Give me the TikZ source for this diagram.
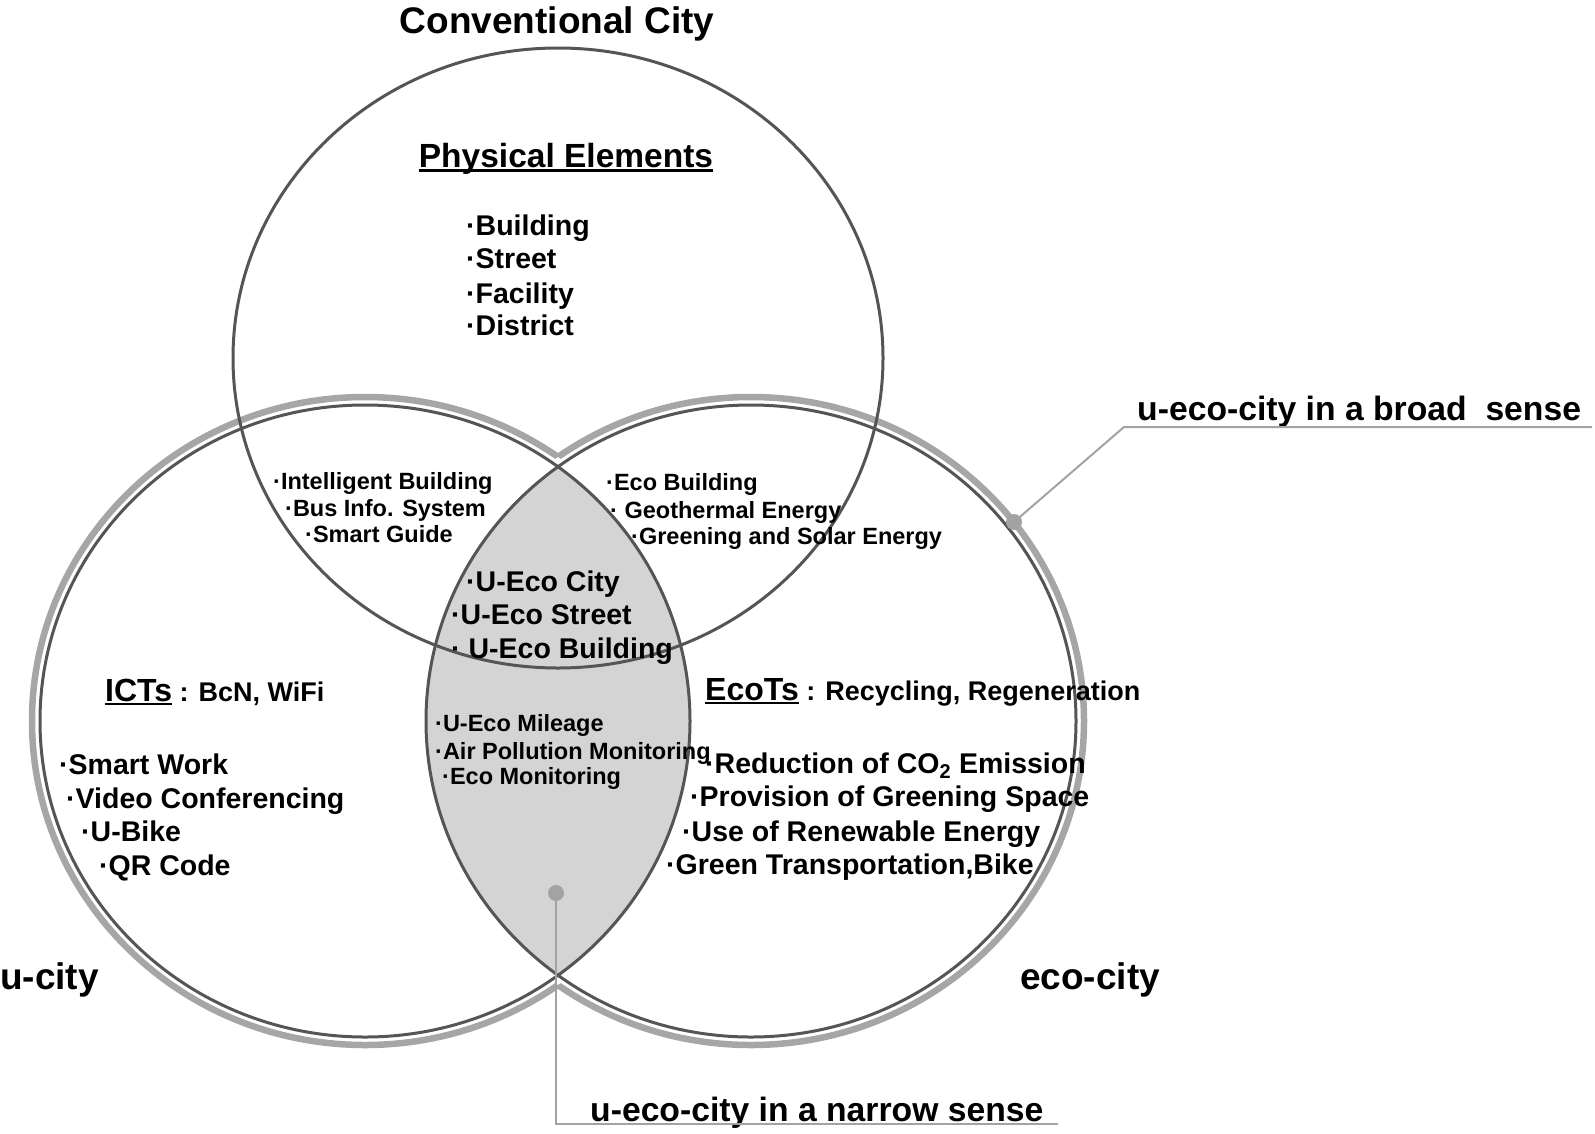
\documentclass[tikz,border=0pt]{standalone}
\usepackage{fontspec}
\setmainfont{Liberation Sans}
\usetikzlibrary{positioning}

\definecolor{ringdark}{HTML}{555555}
\definecolor{ringlight}{HTML}{A6A6A6}
\definecolor{lensgray}{HTML}{D4D4D4}
\definecolor{leadergray}{HTML}{A3A3A3}

% thick underline for the headings
\newcommand{\thickul}[1]{\setbox0\hbox{#1}\rlap{\rule[-0.14em]{\wd0}{0.08em}}\box0}

\begin{document}
\begin{tikzpicture}[
    x=1pt, y=-1pt,
    every node/.style={inner sep=0pt},
    ring/.style={draw=ringdark, line width=3pt},
    band/.style={draw=ringlight, line width=6.5pt},
    titletext/.style={anchor=base, font=\fontsize{37}{40}\selectfont\bfseries},
    headtext/.style={anchor=base, font=\fontsize{33.5}{38}\selectfont\bfseries},
    citytext/.style={anchor=base west, font=\fontsize{37}{40}\selectfont\bfseries},
    techtext/.style={anchor=base west, font=\fontsize{27}{30}\selectfont\bfseries},
    bigitem/.style={anchor=base west, font=\fontsize{28.5}{32}\selectfont\bfseries},
    smallitem/.style={anchor=base west, font=\fontsize{23.5}{27}\selectfont\bfseries},
    sensetext/.style={anchor=base west, font=\fontsize{33.7}{38}\selectfont\bfseries},
    leaderdot/.style={circle, fill=leadergray, minimum size=16pt},
    leader/.style={draw=leadergray, line width=2pt}
]
\useasboundingbox (0,0) rectangle (1595,1133);

% Circle centres
\coordinate (conv) at (558,358);
\coordinate (ucity) at (365,721);
\coordinate (ecocity) at (751,721);

% Outer band (broad sense)
\begin{scope}[even odd rule]
    \clip (-20,-20) rectangle (1615,1153)
        (ecocity) ellipse [x radius=333, y radius=324];
    \draw[band] (ucity) ellipse [x radius=333, y radius=324];
\end{scope}
\begin{scope}[even odd rule]
    \clip (-20,-20) rectangle (1615,1153)
        (ucity) ellipse [x radius=333, y radius=324];
    \draw[band] (ecocity) ellipse [x radius=333, y radius=324];
\end{scope}

% Lens (narrow sense)
\begin{scope}
    \clip (ucity) ellipse [x radius=325, y radius=316];
    \fill[lensgray] (ecocity) ellipse [x radius=325, y radius=316];
\end{scope}

% Circles
\draw[ring] (ucity) ellipse [x radius=325, y radius=316];
\draw[ring] (ecocity) ellipse [x radius=325, y radius=316];
\draw[ring] (conv) ellipse [x radius=325, y radius=310];

% Title
\node[titletext] (convtitle) at (557,33) {Conventional City};

% Physical elements
\node[headtext] (physical) at (566,167) {\thickul{Physical Elements}};
\node[bigitem] (building) at (466,235) {·Building};
\node[bigitem] (street) at (466,268) {·Street};
\node[bigitem] (facility) at (466,303) {·Facility};
\node[bigitem] (district) at (466,335) {·District};

% Conventional + u-city
\node[smallitem] (intelligent) at (273,489) {·Intelligent Building};
\node[smallitem] (businfo) at (285,516) {·Bus Info. System};
\node[smallitem] (smartguide) at (305,542) {·Smart Guide};

% Conventional + eco-city
\node[smallitem] (ecobuilding) at (606,490) {·Eco Building};
\node[smallitem] (geothermal) at (610,518) {· Geothermal Energy};
\node[smallitem] (greening) at (631,544) {·Greening and Solar Energy};

% All three
\node[bigitem] (uecocity) at (466,591) {·U-Eco City};
\node[bigitem] (uecostreet) at (451,624) {·U-Eco Street};
\node[bigitem] (uecobuilding) at (451,658) {· U-Eco Building};

% u-city + eco-city
\node[smallitem] (mileage) at (435,731) {·U-Eco Mileage};
\node[smallitem] (airpollution) at (435,759) {·Air Pollution Monitoring};
\node[smallitem] (ecomonitoring) at (442,784) {·Eco Monitoring};

% u-city
\node[techtext] (icts) at (105,701) {{\fontsize{32}{36}\selectfont\thickul{ICTs}} : BcN, WiFi};
\node[bigitem] (smartwork) at (59,774) {·Smart Work};
\node[bigitem] (video) at (66,808) {·Video Conferencing};
\node[bigitem] (ubike) at (81,841) {·U-Bike};
\node[bigitem] (qrcode) at (99,875) {·QR Code};

% eco-city
\node[techtext] (ecots) at (705,700) {{\fontsize{32}{36}\selectfont\thickul{EcoTs}} : Recycling, Regeneration};
\node[bigitem] (reduction) at (705,773) {·Reduction of CO\textsubscript{2} Emission};
\node[bigitem] (provision) at (690,806) {·Provision of Greening Space};
\node[bigitem] (renewable) at (682,841) {·Use of Renewable Energy};
\node[bigitem] (greentrans) at (666,874) {·Green Transportation,Bike};

% City labels
\node[citytext] (ucitylabel) at (0,989) {u-city};
\node[citytext] (ecocitylabel) at (1020,989) {eco-city};

% Broad sense leader
\node[leaderdot] (broaddot) at (1014,522) {};
\coordinate (broadknee) at (1124,427);
\coordinate (broadend) at (1592,427);
\node[sensetext] (broad) at (1137,420) {u-eco-city in a broad\ \ sense};
\draw[leader] (broaddot.center) -- (broadknee) -- (broadend);

% Narrow sense leader
\node[leaderdot] (narrowdot) at (556,893) {};
\coordinate (narrowknee) at (556,1124);
\coordinate (narrowend) at (1058,1124);
\node[sensetext] (narrow) at (590,1121) {u-eco-city in a narrow sense};
\draw[leader] (narrowdot.center) -- (narrowknee) -- (narrowend);

\end{tikzpicture}
\end{document}
